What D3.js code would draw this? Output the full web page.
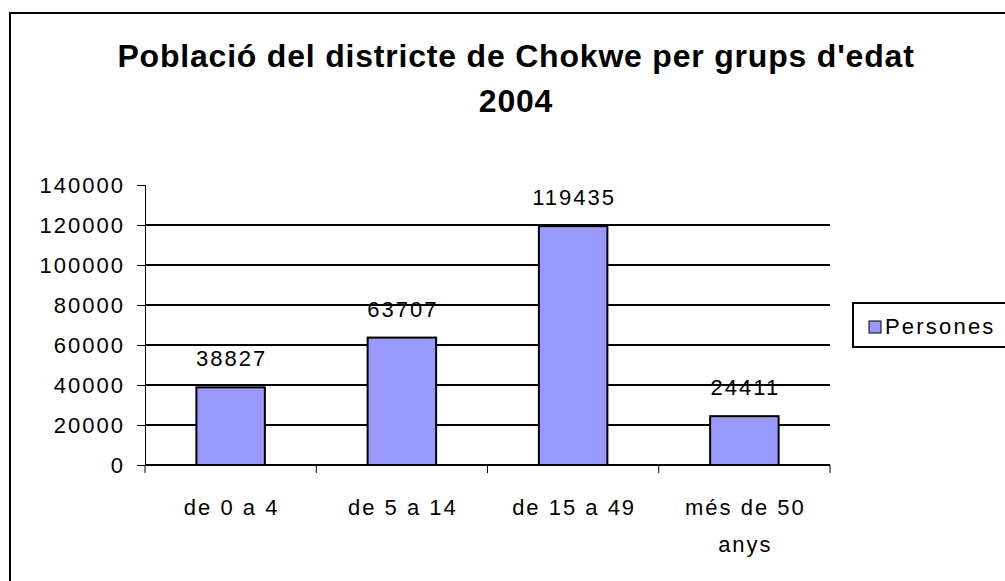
<!DOCTYPE html>
<html>
<head>
<meta charset="utf-8">
<script src="https://cdn.jsdelivr.net/npm/d3@7"></script>
<style>
  body { margin: 0; background: #fff; }
  svg { display: block; font-family: "Liberation Sans", Arial, sans-serif; }
</style>
</head>
<body>
<svg id="chart"></svg>
<script>
const width = 1005;
const height = 581;

// data
const categories = ["de 0 a 4", "de 5 a 14", "de 15 a 49", "més de 50 anys"];
const values = [38827, 63707, 119435, 24411];
const yTicks = [0, 20000, 40000, 60000, 80000, 100000, 120000, 140000];
const seriesName = "Persones";
const title = ["Població del districte de Chokwe per grups d'edat", "2004"];

const svg = d3.select("#chart")
  .attr("width", width)
  .attr("height", height);

const labelSize = 22;
const spacing = 2;

// outer chart border
svg.append("rect")
  .attr("x", 10).attr("y", 13)
  .attr("width", 1010).attr("height", 600)
  .attr("fill", "none")
  .attr("stroke", "black")
  .attr("stroke-width", 2);

// title
svg.append("g")
  .selectAll("text")
  .data(title)
  .enter().append("text")
  .attr("x", 516)
  .attr("y", (d, i) => 67 + i * 45)
  .attr("text-anchor", "middle")
  .attr("font-size", 32)
  .attr("font-weight", "bold")
  .attr("letter-spacing", 0.8)
  .text(d => d);

const margin = { left: 145, right: 830, top: 185, bottom: 465 };

const x = d3.scaleBand()
  .domain(categories)
  .range([margin.left, margin.right])
  .paddingInner(0.6)
  .paddingOuter(0.3);

const y = d3.scaleLinear()
  .domain([0, 140000])
  .range([margin.bottom, margin.top]);

// gridlines
svg.append("g")
  .selectAll("line")
  .data(yTicks.filter(d => d > 0 && d < 140000))
  .enter().append("line")
  .attr("x1", margin.left).attr("x2", margin.right)
  .attr("y1", d => y(d)).attr("y2", d => y(d))
  .attr("stroke", "black")
  .attr("stroke-width", 2);

// y axis
const yAxis = svg.append("g")
  .attr("transform", `translate(${margin.left},0)`)
  .call(d3.axisLeft(y).tickValues(yTicks).tickSize(8).tickPadding(14).tickFormat(d => d));
yAxis.selectAll("text")
  .attr("font-size", labelSize)
  .attr("letter-spacing", spacing)
  .attr("dx", spacing)
  .attr("fill", "black");
yAxis.select(".domain").attr("stroke-width", 1);

// bars
svg.append("g")
  .selectAll("rect")
  .data(values)
  .enter().append("rect")
  .attr("x", (d, i) => x(categories[i]))
  .attr("y", d => y(d))
  .attr("width", x.bandwidth())
  .attr("height", d => y(0) - y(d))
  .attr("fill", "#9999ff")
  .attr("stroke", "black")
  .attr("stroke-width", 2);

// data labels
svg.append("g")
  .selectAll("text")
  .data(values)
  .enter().append("text")
  .attr("x", (d, i) => x(categories[i]) + x.bandwidth() / 2 + spacing / 2)
  .attr("y", d => y(d) - 21)
  .attr("text-anchor", "middle")
  .attr("font-size", labelSize)
  .attr("letter-spacing", spacing)
  .text(d => d);

// x axis
const step = (margin.right - margin.left) / categories.length;
const xAxisG = svg.append("g");
xAxisG.append("line")
  .attr("x1", margin.left).attr("x2", margin.right)
  .attr("y1", y(0)).attr("y2", y(0))
  .attr("stroke", "black").attr("stroke-width", 2);
xAxisG.selectAll(".tick")
  .data(d3.range(categories.length + 1))
  .enter().append("line")
  .attr("x1", i => margin.left + i * step).attr("x2", i => margin.left + i * step)
  .attr("y1", y(0)).attr("y2", y(0) + 8)
  .attr("stroke", "black");

// category labels (wrapped like the original)
const catLines = [["de 0 a 4"], ["de 5 a 14"], ["de 15 a 49"], ["més de 50", "anys"]];
xAxisG.selectAll(".cat")
  .data(categories)
  .enter().append("text")
  .attr("text-anchor", "middle")
  .attr("font-size", labelSize)
  .attr("letter-spacing", spacing)
  .each(function(d, i) {
    d3.select(this).selectAll("tspan")
      .data(catLines[i])
      .enter().append("tspan")
      .attr("x", x(d) + x.bandwidth() / 2 + spacing / 2)
      .attr("y", (t, j) => y(0) + 50 + j * 37)
      .text(t => t);
  });

// legend
const legend = svg.append("g").attr("transform", "translate(853,303)");
legend.append("rect")
  .attr("width", 170).attr("height", 44)
  .attr("fill", "white").attr("stroke", "black").attr("stroke-width", 2);
legend.append("rect")
  .attr("x", 16).attr("y", 18).attr("width", 12).attr("height", 12)
  .attr("fill", "#9999ff").attr("stroke", "black");
legend.append("text")
  .attr("x", 32).attr("y", 31)
  .attr("font-size", 22)
  .attr("letter-spacing", 2.2)
  .text(seriesName);
</script>
</body>
</html>
